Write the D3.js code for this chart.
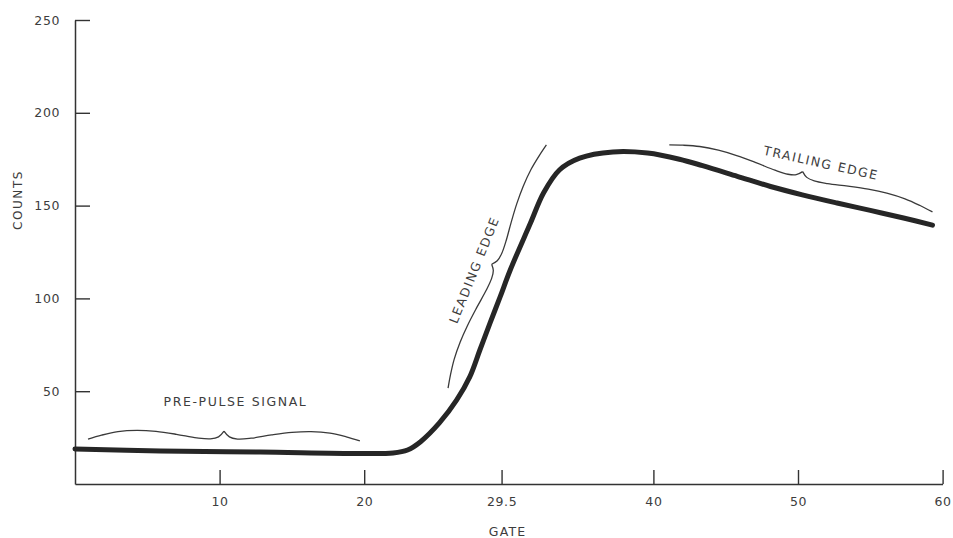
<!DOCTYPE html>
<html>
<head>
<meta charset="utf-8">
<script src="https://cdn.jsdelivr.net/npm/d3@7"></script>
<style>
  html, body { margin: 0; padding: 0; background: #ffffff; }
  svg { display: block; }
  .lbl { font-family: "DejaVu Sans", sans-serif; fill: #3d3d3d; }
</style>
</head>
<body>
<svg id="chart" width="953" height="538"></svg>
<script>
// ---- data ----
const gates  = [0, 5.9, 12.8, 19.7, 22.0, 23.0, 23.9, 25.2, 26.4, 27.3, 28.0, 28.7, 29.4, 30.1, 31.5, 32.4, 33.5, 34.9, 37.2, 39.6, 41.8, 43.4, 45.8, 48.1, 50.3, 52.7, 55.0, 57.3, 59.3];
const counts = [18.9, 17.8, 17.2, 16.4, 16.7, 18.3, 22.8, 32.9, 45.3, 57.7, 72.2, 86.7, 100.8, 115.3, 140.6, 156.8, 169.2, 175.6, 178.9, 178.3, 175.0, 171.5, 165.8, 160.3, 155.8, 151.4, 147.4, 143.3, 139.5];

const xTickValues = [10, 20, 29.5, 40, 50, 60];
const yTickValues = [50, 100, 150, 200, 250];

const xTitle = "GATE";
const yTitle = "COUNTS";

// annotation texts
const annoTexts  = ["PRE-PULSE SIGNAL", "LEADING EDGE", "TRAILING EDGE"];
// brace end points (gate, count)
const braceStartGate  = [0.9, 25.8, 41.1];
const braceStartCount = [24.2, 51.7, 182.7];
const braceEndGate    = [19.7, 32.6, 59.3];
const braceEndCount   = [23.2, 182.7, 146.6];
// label anchor points (gate, count)
const labelGate  = [11.1, 27.6, 51.6];
const labelCount = [44.2, 115.3, 173.0];

// ---- layout ----
const svg = d3.select("#chart");
const x = d3.scaleLinear().domain([0, 60]).range([75, 942.6]);
const y = d3.scaleLinear().domain([0, 250]).range([484, 20]);

// axes
const yAxis = d3.axisLeft(y).tickValues(yTickValues).tickSize(-15).tickSizeOuter(0).tickPadding(15);
const xAxis = d3.axisBottom(x).tickValues(xTickValues).tickSize(-14).tickSizeOuter(0).tickPadding(13)
  .tickFormat(d => String(d));

const gy = svg.append("g").attr("transform", `translate(${x(0)},0)`).call(yAxis);
const gx = svg.append("g").attr("transform", `translate(0,${y(0)})`).call(xAxis);

[gx, gy].forEach(g => {
  g.select(".domain").attr("stroke", "#333").attr("stroke-width", 1.5);
  g.selectAll(".tick line").attr("stroke", "#333").attr("stroke-width", 1.4);
  g.selectAll(".tick text")
    .attr("class", "lbl")
    .attr("font-size", 12.5)
    .attr("letter-spacing", 0.6)
    .attr("fill", "#3d3d3d");
});

// axis titles
svg.append("text").attr("class", "lbl")
  .attr("x", x(29.5) + 6).attr("y", 531)
  .attr("text-anchor", "middle").attr("dominant-baseline", "central")
  .attr("font-size", 12.5).attr("letter-spacing", 1.2)
  .text(xTitle);

svg.append("text").attr("class", "lbl")
  .attr("transform", `translate(18,${y(153)}) rotate(-90)`)
  .attr("text-anchor", "middle").attr("dominant-baseline", "central")
  .attr("font-size", 12).attr("letter-spacing", 1.6)
  .text(yTitle);

// main curve
const pts = gates.map((g, i) => [g, counts[i]]);
const line = d3.line().x(d => x(d[0])).y(d => y(d[1])).curve(d3.curveCatmullRom.alpha(0.5));
svg.append("path").datum(pts)
  .attr("d", line)
  .attr("fill", "none")
  .attr("stroke", "#262626")
  .attr("stroke-width", 5)
  .attr("stroke-linecap", "round")
  .attr("stroke-linejoin", "round");

// braces
const braceAmp = [9, 6, 7];
const profile = [[0,0],[0.1,0.45],[0.22,0.85],[0.36,1],[0.5,0.9],[0.65,0.6],[0.8,0.22],[0.9,0.12],[0.96,0.35],[1,1]];
const bline = d3.line().curve(d3.curveCatmullRom.alpha(0.5));
annoTexts.forEach((t, i) => {
  const p0 = [x(braceStartGate[i]), y(braceStartCount[i])];
  const p1 = [x(braceEndGate[i]), y(braceEndCount[i])];
  const dx = p1[0] - p0[0], dy = p1[1] - p0[1];
  const L = Math.hypot(dx, dy);
  const n = [dy / L, -dx / L];
  const A = braceAmp[i];
  const at = (tt, h) => [p0[0] + tt * dx + A * h * n[0], p0[1] + tt * dy + A * h * n[1]];
  const half1 = profile.map(([s, h]) => at(0.5 * s, h));
  const half2 = profile.map(([s, h]) => at(1 - 0.5 * s, h));
  [half1, half2].forEach(hp => {
    svg.append("path").attr("d", bline(hp))
      .attr("fill", "none").attr("stroke", "#3a3a3a").attr("stroke-width", 1.3);
  });
});

// annotation labels
const labelRot = [0, -68, 12.5];
annoTexts.forEach((t, i) => {
  svg.append("text").attr("class", "lbl")
    .attr("transform", `translate(${x(labelGate[i])},${y(labelCount[i])}) rotate(${labelRot[i]})`)
    .attr("text-anchor", "middle").attr("dominant-baseline", "central")
    .attr("font-size", 12.5).attr("letter-spacing", 1.6)
    .text(t);
});
</script>
</body>
</html>
